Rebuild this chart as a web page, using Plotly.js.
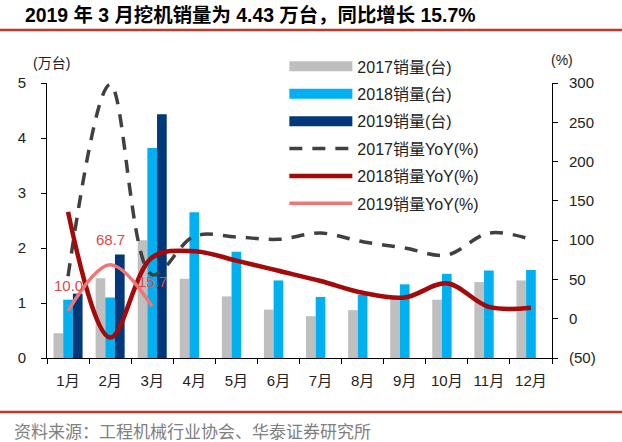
<!DOCTYPE html>
<html>
<head>
<meta charset="utf-8">
<script src="https://cdn.plot.ly/plotly-3.0.1.min.js"></script>
<style>
html,body{margin:0;padding:0;background:#fff;}
#chart{width:622px;height:442px;}
</style>
</head>
<body>
<div id="chart"></div>
<script>
// ---- data ----
var months = ["1月","2月","3月","4月","5月","6月","7月","8月","9月","10月","11月","12月"];
var sales2017 = [0.45, 1.45, 2.14, 1.44, 1.12, 0.88, 0.76, 0.87, 1.07, 1.06, 1.38, 1.41];
var sales2018 = [1.06, 1.10, 3.82, 2.65, 1.93, 1.41, 1.11, 1.15, 1.34, 1.53, 1.59, 1.60];
var sales2019 = [1.17, 1.88, 4.43];
var yoy2017 = [54, 298, 56, 105, 104, 101, 109, 98, 90, 81, 109, 101];
var yoy2018 = [136, -24, 78, 86, 74, 61, 48, 33, 27, 45, 15, 14];
var yoy2019 = [10.0, 68.7, 15.7];
var yoyTickVals = [-50, 0, 50, 100, 150, 200, 250, 300];
var yoyTickText = ["(50)", "0", "50", "100", "150", "200", "250", "300"];
var seriesNames = ["2017销量(台)", "2018销量(台)", "2019销量(台)", "2017销量YoY(%)", "2018销量YoY(%)", "2019销量YoY(%)"];

var FONT = '"Liberation Sans", Arial, "Noto Sans CJK SC", sans-serif';
var cGray = "#BFBFBF", cBlue = "#00B0F0", cNavy = "#00387A";
var cDash = "#404040", cRed = "#A50A0A", cPink = "#F07575";

var data = [
  {type:"bar", name:seriesNames[0], x:months, y:sales2017, marker:{color:cGray}, showlegend:false, yaxis:"y"},
  {type:"bar", name:seriesNames[1], x:months, y:sales2018, marker:{color:cBlue}, showlegend:false, yaxis:"y"},
  {type:"bar", name:seriesNames[2], x:months.slice(0, sales2019.length), y:sales2019, marker:{color:cNavy}, showlegend:false, yaxis:"y"},
  {type:"scatter", mode:"lines", name:seriesNames[3], x:months, y:yoy2017, yaxis:"y2",
    line:{color:cDash, width:3.5, dash:"13px,10px", shape:"spline", smoothing:1}, showlegend:false},
  {type:"scatter", mode:"lines", name:seriesNames[4], x:months, y:yoy2018, yaxis:"y2",
    line:{color:cRed, width:4.5, shape:"spline", smoothing:1}, showlegend:false},
  {type:"scatter", mode:"lines", name:seriesNames[5], x:months.slice(0, yoy2019.length), y:yoy2019, yaxis:"y2",
    line:{color:cPink, width:3.5, shape:"spline", smoothing:1}, showlegend:false}
];

// legend entries (wide swatches like the reference)
var legendStyles = [
  {color:cGray, width:10}, {color:cBlue, width:10}, {color:cNavy, width:10},
  {color:cDash, width:3.5, dash:"13px,10px"}, {color:cRed, width:4.5}, {color:cPink, width:3.5}
];
for (var i = 0; i < seriesNames.length; i++) {
  data.push({type:"scatter", mode:"lines", name:seriesNames[i], x:[null], y:[null], yaxis:"y2",
    line:legendStyles[i], legendgroup:"g"+i, showlegend:true, hoverinfo:"skip"});
}

var annotations = [
  {text:"(万台)", xref:"paper", yref:"paper", x:0.0099, y:1.0727, showarrow:false,
    xanchor:"center", yanchor:"middle", font:{family:FONT, size:14, color:"#222"}},
  {text:"(%)", xref:"paper", yref:"paper", x:1.0198, y:1.0836, showarrow:false,
    xanchor:"center", yanchor:"middle", font:{family:FONT, size:14, color:"#222"}},
  {text:"资料来源：工程机械行业协会、华泰证券研究所", xref:"paper", yref:"paper", x:-0.0693, y:-0.262,
    showarrow:false, xanchor:"left", yanchor:"middle", font:{family:'"Noto Sans CJK SC", sans-serif', size:17, color:"#808080"}}
];
for (var j = 0; j < yoy2019.length; j++) {
  annotations.push({text:yoy2019[j].toFixed(1), x:months[j], y:yoy2019[j], xref:"x", yref:"y2",
    showarrow:false, yshift:25, xanchor:"center", yanchor:"middle",
    font:{family:FONT, size:15, color:"#E04848"}});
}

var layout = {
  width:622, height:442,
  margin:{l:47, r:70, t:83, b:84, pad:0},
  paper_bgcolor:"#fff", plot_bgcolor:"#fff",
  font:{family:FONT, size:14, color:"#222"},
  title:{text:"<b>2019 年 3 月挖机销量为 4.43 万台，同比增长 15.7%</b>", xref:"container", yref:"container",
    x:0.0402, xanchor:"left", y:0.966, yanchor:"middle", font:{family:FONT, size:19.4, color:"#000"}},
  barmode:"group", bargap:0.31, bargroupgap:0,
  xaxis:{type:"category", tickson:"boundaries", ticks:"outside", ticklen:5, tickcolor:"#000",
    showline:true, linecolor:"#000", linewidth:1, showgrid:false, zeroline:false, ticklabelstandoff:9,
    tickfont:{family:FONT, size:15, color:"#222"}},
  yaxis:{range:[0,5], dtick:1, ticks:"outside", ticklen:5, tickcolor:"#000", showline:true, ticklabelstandoff:12,
    linecolor:"#000", linewidth:1, showgrid:false, zeroline:false, tickfont:{family:FONT, size:15, color:"#222"}},
  yaxis2:{range:[-50,300], overlaying:"y", side:"right", tickvals:yoyTickVals, ticktext:yoyTickText,
    ticks:"outside", ticklen:5, tickcolor:"#000", showline:true, linecolor:"#000", linewidth:1, ticklabelstandoff:8,
    showgrid:false, zeroline:false, tickfont:{family:FONT, size:15, color:"#222"}},
  legend:{x:0.47, xanchor:"left", y:1.122, yanchor:"top", bgcolor:"rgba(0,0,0,0)",
    traceorder:"grouped", tracegroupgap:3.6, itemwidth:63,
    font:{family:FONT, size:16, color:"#222"}},
  showlegend:true,
  shapes:[
    {type:"line", xref:"paper", yref:"paper", x0:-0.1, x1:1.15, y0:1.1927, y1:1.1927, line:{color:"#C0392B", width:2.5}},
    {type:"line", xref:"paper", yref:"paper", x0:-0.1, x1:1.15, y0:-0.196, y1:-0.196, line:{color:"#C0392B", width:2.5}}
  ],
  annotations:annotations
};

Plotly.newPlot("chart", data, layout, {displayModeBar:false, staticPlot:true});
</script>
</body>
</html>
